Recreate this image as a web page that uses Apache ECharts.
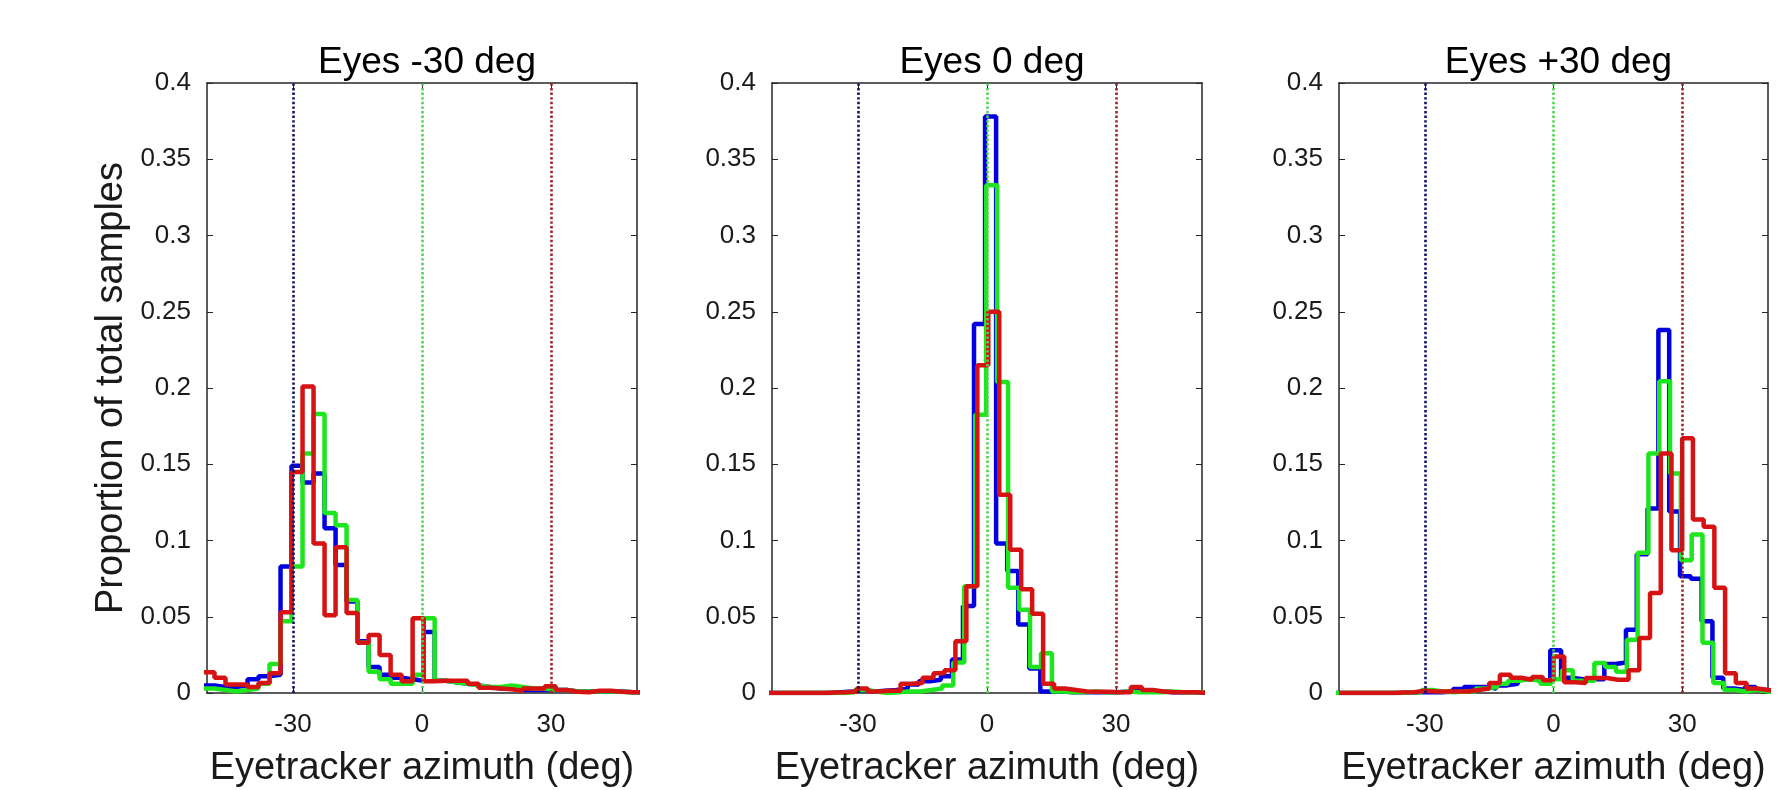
<!DOCTYPE html>
<html>
<head>
<meta charset="utf-8">
<title>Eyetracker azimuth histograms</title>
<script src="https://cdn.jsdelivr.net/npm/echarts@6/dist/echarts.min.js"></script>
<style>
html, body { margin: 0; padding: 0; background: #fff; }
#chart { width: 1777px; height: 790px; }
</style>
</head>
<body>
<div id="chart"></div>
<script>
// panel titles, reference (target) lines and ticks
const panelTitles = ['Eyes -30 deg', 'Eyes 0 deg', 'Eyes +30 deg']
const targetAzimuths = [-30, 0, 30]
const xTickValues = [-30, 0, 30]
const xRange = [-50, 50]
const yRange = [0, 0.4]

// histogram bins: left edge of first bin and bin width (deg), then proportions per bin
// Eyes -30 deg (all three share the same bins)
const p1BinStart = -50.82
const p1BinWidth = 2.56
const p1Blue = [0.005, 0.004, 0.004, 0.005, 0.009, 0.011, 0.012, 0.083, 0.149, 0.138, 0.144, 0.108, 0.084, 0.060, 0.034, 0.017,
  0.012, 0.010, 0.009, 0.008, 0.040, 0.008, 0.007, 0.006, 0.005, 0.004, 0.003, 0.003, 0.002, 0.002, 0.002, 0.002, 0.002,
  0.001, 0.001, 0.001, 0.001, 0.001, 0.0005, 0.0005]
const p1Green = [0.003, 0.002, 0.001, 0.002, 0.003, 0.006, 0.019, 0.047, 0.083, 0.157, 0.183, 0.118, 0.110, 0.061, 0.033, 0.014,
  0.009, 0.006, 0.006, 0.012, 0.049, 0.008, 0.007, 0.006, 0.005, 0.004, 0.004, 0.005, 0.004, 0.003, 0.003, 0.002, 0.002,
  0.001, 0.001, 0.001, 0.001, 0.0008, 0.0005, 0.0005]
const p1Red = [0.0136, 0.010, 0.0055, 0.0055, 0.004, 0.0066, 0.013, 0.053, 0.145, 0.201, 0.098, 0.051, 0.0955, 0.0525, 0.033, 0.038,
  0.025, 0.012, 0.0077, 0.049, 0.0077, 0.008, 0.008, 0.008, 0.006, 0.0035, 0.003, 0.0025, 0.0015, 0.003, 0.003, 0.0045, 0.002,
  0.0008, 0.0005, 0.0015, 0.0015, 0.0008, 0.0005, 0.0005]

// Eyes 0 deg
const p2BlueStart = -51.85
const p2BlueWidth = 2.57
const p2Blue = [0, 0, 0, 0, 0, 0, 0.0005, 0.001, 0.002, 0.001, 0.0015, 0.002, 0.003, 0.0055, 0.0077, 0.0087, 0.011, 0.022, 0.057, 0.242,
  0.378, 0.098, 0.080, 0.045, 0.016, 0.001, 0.001, 0.0005, 0.0005, 0.0005, 0.0005, 0.0005, 0.001, 0.002, 0.001, 0.001, 0.0005, 0.0005, 0.0005, 0]
const p2GreenStart = -51.2
const p2GreenWidth = 2.55
const p2Green = [0, 0, 0, 0, 0, 0, 0, 0.0005, 0.002, 0.001, 0, 0.0005, 0.001, 0.001, 0.002, 0.003, 0.005, 0.020, 0.070, 0.1825,
  0.333, 0.204, 0.069, 0.0546, 0.017, 0.026, 0.001, 0.0005, 0.0005, 0.001, 0.0005, 0.0005, 0.001, 0.0005, 0.0005, 0.0005, 0.001, 0.0005, 0.0005, 0.0005]
const p2RedStart = -50.7
const p2RedWidth = 2.55
const p2Red = [0, 0, 0, 0, 0, 0.0003, 0.0005, 0.001, 0.003, 0.001, 0.0015, 0.0015, 0.006, 0.0066, 0.010, 0.013, 0.015, 0.034, 0.070, 0.215,
  0.250, 0.130, 0.094, 0.068, 0.052, 0.006, 0.003, 0.002, 0.001, 0.0008, 0.0008, 0.0005, 0.0005, 0.004, 0.002, 0.001, 0.0005, 0.0005, 0.0005, 0]

// Eyes +30 deg
const p3BlueStart = -51.15
const p3BlueWidth = 2.52
const p3Blue = [0, 0, 0, 0, 0, 0, 0.0003, 0.0005, 0.0005, 0.0005, 0.001, 0.0026, 0.004, 0.004, 0.003, 0.005, 0.006, 0.009, 0.010, 0.008,
  0.028, 0.010, 0.009, 0.009, 0.009, 0.019, 0.020, 0.0415, 0.091, 0.121, 0.238, 0.119, 0.0765, 0.075, 0.047, 0.010, 0.003, 0.002, 0.004, 0.002, 0.001]
const p3GreenStart = -50.95
const p3GreenWidth = 2.52
const p3Green = [0, 0, 0, 0, 0, 0, 0.0003, 0.0005, 0.002, 0.001, 0.0005, 0.001, 0.001, 0.003, 0.004, 0.006, 0.008, 0.009, 0.008, 0.006,
  0.009, 0.015, 0.008, 0.008, 0.0197, 0.017, 0.014, 0.035, 0.092, 0.157, 0.2045, 0.144, 0.087, 0.104, 0.033, 0.0066, 0.002, 0.001, 0.002, 0.001, 0.0005]
const p3RedStart = -50
const p3RedWidth = 2.5
const p3Red = [0, 0, 0, 0, 0, 0.0003, 0.0005, 0.0015, 0.001, 0.001, 0.001, 0.001, 0.002, 0.003, 0.0065, 0.012, 0.010, 0.0087, 0.0105, 0.0083,
  0.024, 0.007, 0.0066, 0.0098, 0.0098, 0.0087, 0.0087, 0.015, 0.036, 0.0656, 0.157, 0.0936, 0.167, 0.1137, 0.109, 0.069, 0.013, 0.0066, 0.003, 0.002, 0.001]

const panels = [
  [
    { color: '#0000e0', start: p1BinStart, width: p1BinWidth, values: p1Blue },
    { color: '#1ee61e', start: p1BinStart, width: p1BinWidth, values: p1Green },
    { color: '#d61212', start: p1BinStart, width: p1BinWidth, values: p1Red },
  ],
  [
    { color: '#0000e0', start: p2BlueStart, width: p2BlueWidth, values: p2Blue },
    { color: '#1ee61e', start: p2GreenStart, width: p2GreenWidth, values: p2Green },
    { color: '#d61212', start: p2RedStart, width: p2RedWidth, values: p2Red },
  ],
  [
    { color: '#0000e0', start: p3BlueStart, width: p3BlueWidth, values: p3Blue },
    { color: '#1ee61e', start: p3GreenStart, width: p3GreenWidth, values: p3Green },
    { color: '#d61212', start: p3RedStart, width: p3RedWidth, values: p3Red },
  ],
]
const targetColors = ['#12126a', '#4ed64e', '#9c2424']

const FONT = 'Liberation Sans, Arial, sans-serif'
const AXIS_COLOR = '#262626'
const TEXT_COLOR = '#1a1a1a'
// outerBoundsMode 'none': keep the plot boxes where they are even if the bottom labels touch the edge
const grids = [
  { left: 207, top: 83, width: 430, height: 610, outerBoundsMode: 'none', containLabel: false },
  { left: 772, top: 83, width: 430, height: 610, outerBoundsMode: 'none', containLabel: false },
  { left: 1339, top: 83, width: 429, height: 610, outerBoundsMode: 'none', containLabel: false },
]

// stairs outline: each bin is a flat segment from its left edge to the next edge
function stairs(start, width, values) {
  const pts = values.map((v, i) => [start + i * width, v])
  pts.push([start + values.length * width, values[values.length - 1]])
  return pts
}

const xAxes = []
const yAxes = []
const series = []
const titles = []

grids.forEach((g, i) => {
  titles.push({
    text: panelTitles[i],
    left: g.left + g.width / 2,
    top: 39,
    textAlign: 'center',
    textStyle: { fontFamily: FONT, fontSize: 37, fontWeight: 'normal', color: '#000' },
  })
})

grids.forEach((g, i) => {
  xAxes.push({
    type: 'value',
    gridIndex: i,
    min: xRange[0],
    max: xRange[1],
    position: 'bottom',
    name: 'Eyetracker azimuth (deg)',
    nameLocation: 'middle',
    nameGap: 57,
    nameTextStyle: { fontFamily: FONT, fontSize: 38, color: TEXT_COLOR },
    axisLine: { show: true, onZero: false, lineStyle: { color: AXIS_COLOR, width: 1.5 } },
    axisTick: { show: true, inside: true, length: 6, customValues: xTickValues, lineStyle: { color: AXIS_COLOR } },
    axisLabel: { show: true, customValues: xTickValues, margin: 19, fontFamily: FONT, fontSize: 26, color: TEXT_COLOR },
    splitLine: { show: false },
  })
  yAxes.push({
    type: 'value',
    gridIndex: i,
    min: yRange[0],
    max: yRange[1],
    interval: 0.05,
    position: 'left',
    name: i === 0 ? 'Proportion of total samples' : '',
    nameLocation: 'middle',
    nameGap: 76,
    nameTextStyle: { fontFamily: FONT, fontSize: 38, color: TEXT_COLOR },
    axisLine: { show: true, onZero: false, lineStyle: { color: AXIS_COLOR, width: 1.5 } },
    axisTick: { show: true, inside: true, length: 6, lineStyle: { color: AXIS_COLOR } },
    axisLabel: { show: true, margin: 16, fontFamily: FONT, fontSize: 26, color: TEXT_COLOR },
    splitLine: { show: false },
  })
})

// box: top and right axes with inward ticks and no labels
grids.forEach((g, i) => {
  xAxes.push({
    type: 'value',
    gridIndex: i,
    min: xRange[0],
    max: xRange[1],
    position: 'top',
    axisLine: { show: true, onZero: false, lineStyle: { color: AXIS_COLOR, width: 1.5 } },
    axisTick: { show: true, inside: true, length: 6, customValues: xTickValues, lineStyle: { color: AXIS_COLOR } },
    axisLabel: { show: false },
    splitLine: { show: false },
  })
  yAxes.push({
    type: 'value',
    gridIndex: i,
    min: yRange[0],
    max: yRange[1],
    interval: 0.05,
    position: 'right',
    axisLine: { show: true, onZero: false, lineStyle: { color: AXIS_COLOR, width: 1.5 } },
    axisTick: { show: true, inside: true, length: 6, lineStyle: { color: AXIS_COLOR } },
    axisLabel: { show: false },
    splitLine: { show: false },
  })
})

panels.forEach((hists, i) => {
  // dotted target lines, drawn under the histograms
  series.push({
    type: 'line',
    xAxisIndex: i,
    yAxisIndex: i,
    data: [],
    z: 1,
    silent: true,
    markLine: {
      silent: true,
      symbol: ['none', 'none'],
      animation: false,
      label: { show: false },
      data: targetAzimuths.map((a, k) => ({
        xAxis: a,
        lineStyle: { color: targetColors[k], width: 2.6, type: [2.4, 2.2] },
      })),
    },
  })
  hists.forEach((h) => {
    series.push({
      type: 'line',
      xAxisIndex: i,
      yAxisIndex: i,
      step: 'end',
      showSymbol: false,
      silent: true,
      z: 3,
      lineStyle: { color: h.color, width: 4.5 },
      data: stairs(h.start, h.width, h.values),
    })
  })
})

const chart = echarts.init(document.getElementById('chart'), null, { renderer: 'canvas' })
chart.setOption({
  backgroundColor: '#fff',
  animation: false,
  title: titles,
  grid: grids,
  xAxis: xAxes,
  yAxis: yAxes,
  series,
})
</script>
</body>
</html>
